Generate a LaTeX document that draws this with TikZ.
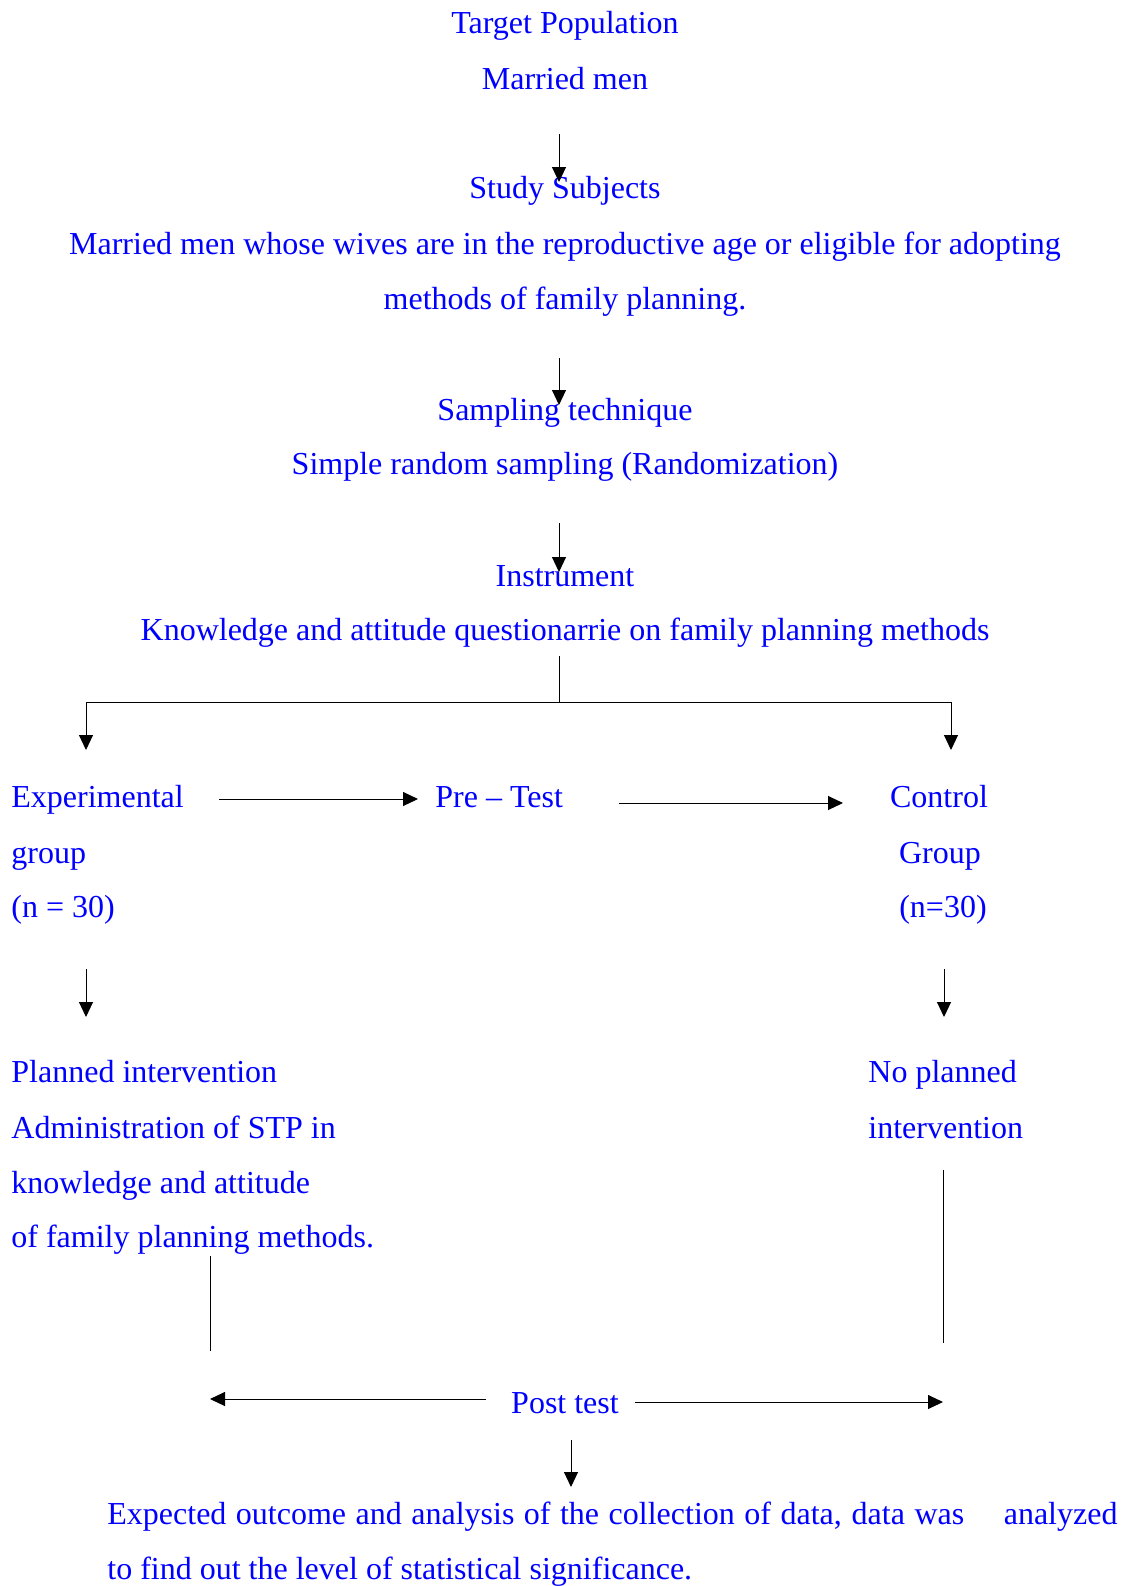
\documentclass[tikz,border=0pt]{standalone}
\usepackage{fontspec}
\setmainfont{Liberation Serif}
\usetikzlibrary{arrows.meta}

\begin{document}
\begin{tikzpicture}[x=0.5pt,y=-0.5pt,
        lbl/.style={text=blue,inner sep=0pt,anchor=base,font=\fontsize{16}{19}\selectfont},
        lblw/.style={lbl,anchor=base west},
        arr/.style={-{Triangle[length=7.5pt,width=7pt]},line width=0.5pt},
        ln/.style={line width=0.5pt}]
        \useasboundingbox (0,0) rectangle (1129,1586);

        \node[lbl] (target) at (565,33) {Target Population};
        \node[lbl] (married) at (565,89) {Married men};
        \node[lbl] (study) at (565,198) {Study Subjects};
        \node[lbl] (studya) at (565,254) {Married men whose wives are in the reproductive age or eligible for adopting};
        \node[lbl] (studyb) at (565,309) {methods of family planning.};
        \node[lbl] (sampling) at (565,420) {Sampling technique};
        \node[lbl] (random) at (565,474) {Simple random sampling (Randomization)};
        \node[lbl] (instrument) at (565,586) {Instrument};
        \node[lbl] (questionnaire) at (565,640) {Knowledge and attitude questionarrie on family planning methods};

        \node[lblw] (exp) at (11,807) {Experimental};
        \node[lblw] (expb) at (11,863) {group};
        \node[lblw] (expn) at (11,917) {(n = 30)};
        \node[lblw] (pretest) at (435,807) {Pre -- Test};
        \node[lbl] (control) at (939,807) {Control};
        \node[lbl] (controlb) at (940,863) {Group};
        \node[lbl] (controln) at (943,917) {(n=30)};

        \node[lblw] (planned) at (11,1082) {Planned intervention};
        \node[lblw] (planneda) at (11,1138) {Administration of STP in};
        \node[lblw] (plannedb) at (11,1193) {knowledge and attitude};
        \node[lblw] (plannedc) at (11,1247) {of family planning methods.};
        \node[lblw] (noplan) at (868,1082) {No planned};
        \node[lblw] (noplanb) at (868,1138) {intervention};

        \node[lbl] (posttest) at (565,1413) {Post test};
        \node[lblw] (outcome) at (107,1524) {\makebox[505pt][s]{Expected outcome and analysis of the collection of data, data was\hspace{15pt} analyzed}};
        \node[lblw] (outcomeb) at (107,1579) {to find out the level of statistical significance.};

        \coordinate (t1) at (559,134);  \coordinate (h1) at (559,182);
        \coordinate (t2) at (559,358);  \coordinate (h2) at (559,405);
        \coordinate (t3) at (559,523);  \coordinate (h3) at (559,572);
        \coordinate (split) at (559,656);
        \coordinate (join) at (559,702);
        \coordinate (jl) at (86,702);   \coordinate (jr) at (951,702);
        \coordinate (hl) at (86,750);   \coordinate (hr) at (951,750);
        \coordinate (e1) at (219,799);  \coordinate (e2) at (418,799);
        \coordinate (p1) at (619,803);  \coordinate (p2) at (843,803);
        \coordinate (dl1) at (86,969);  \coordinate (dl2) at (86,1017);
        \coordinate (dr1) at (944,969); \coordinate (dr2) at (944,1017);
        \coordinate (vl1) at (210,1256); \coordinate (vl2) at (210,1351);
        \coordinate (vr1) at (943,1170); \coordinate (vr2) at (943,1343);
        \coordinate (pl1) at (486,1399); \coordinate (pl2) at (210,1399);
        \coordinate (pr1) at (635,1402); \coordinate (pr2) at (943,1402);
        \coordinate (o1) at (571,1440); \coordinate (o2) at (571,1487);

        \draw[arr] (t1) -- (h1);
        \draw[arr] (t2) -- (h2);
        \draw[arr] (t3) -- (h3);
        \draw[ln] (split) -- (join);
        \draw[ln] (jl) -- (jr);
        \draw[arr] (jl) -- (hl);
        \draw[arr] (jr) -- (hr);
        \draw[arr] (e1) -- (e2);
        \draw[arr] (p1) -- (p2);
        \draw[arr] (dl1) -- (dl2);
        \draw[arr] (dr1) -- (dr2);
        \draw[ln] (vl1) -- (vl2);
        \draw[ln] (vr1) -- (vr2);
        \draw[arr] (pl1) -- (pl2);
        \draw[arr] (pr1) -- (pr2);
        \draw[arr] (o1) -- (o2);
    \end{tikzpicture}
\end{document}
